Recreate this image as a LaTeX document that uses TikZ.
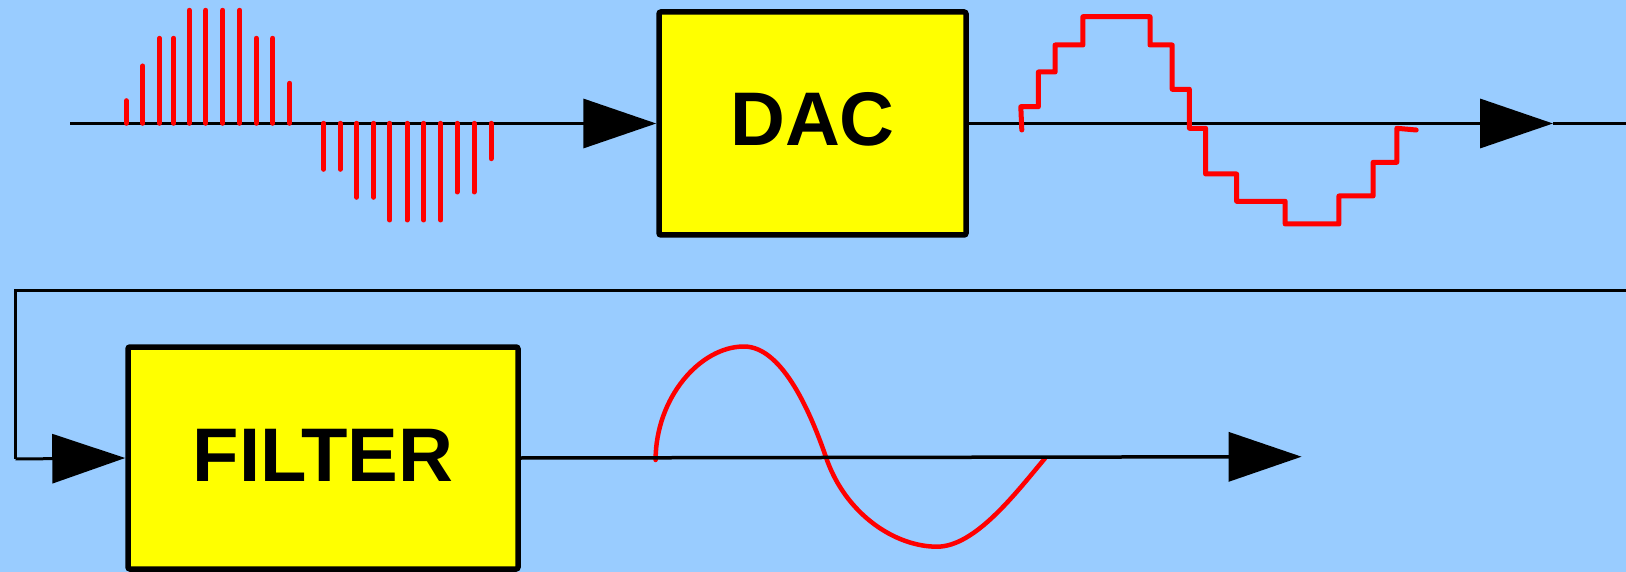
\documentclass[tikz,border=0pt]{standalone}
\usepackage{fontspec}
\setmainfont{Liberation Sans}
\usetikzlibrary{arrows.meta}
\definecolor{bgblue}{HTML}{99CCFF}
\definecolor{boxyellow}{HTML}{FFFF00}
\definecolor{sigred}{HTML}{FF0000}
\begin{document}
\begin{tikzpicture}[x=1pt,y=-1pt,
  block/.style={draw=black, line width=5.5pt, fill=boxyellow, rounded corners=2pt,
    font=\fontsize{76}{80}\selectfont\bfseries, inner sep=0pt},
  sigline/.style={draw=black, line width=3.5pt},
  fbline/.style={draw=black, line width=3pt},
  bigarrow/.style={-{Triangle[length=73pt,width=49pt]}},
  redsig/.style={draw=sigred, line width=5pt, line cap=round, line join=round}]
\useasboundingbox (0,0) rectangle (1626,572);
\fill[bgblue] (0,0) rectangle (1626,572);

% blocks
\node[block, minimum width=307pt, minimum height=223pt, text height=55pt, text depth=10pt] (dac) at (812.5,123.5) {DAC};
\node[block, minimum width=390pt, minimum height=222pt, text height=54pt, text depth=7pt] (filter) at (323,458) {FILTER};

% coordinates
\coordinate (in) at (70,123.5);
\coordinate (a2) at (1553,123.5);
\coordinate (outR) at (1626,123.5);
\coordinate (fbR) at (1626,291);
\coordinate (fbL) at (15.6,291);
\coordinate (fbB) at (15.6,459);
\coordinate (a3) at (1301.6,456.7);

% connectors
\draw[sigline, bigarrow] (in) -- (dac.west);
\draw[sigline, bigarrow] (dac.east) -- (a2);
\draw[sigline] (a2) -- (outR);
\draw[fbline] (fbR) -- (fbL) -- (fbB);
\draw[fbline, bigarrow] (fbB) -- (filter.west);

% sampled signal
\foreach \x/\t in {126.3/100.7, 142.9/66, 159.4/38.3, 173.7/38.3, 189.3/10.3, 205.8/10.3,
  222.8/10.3, 239.7/10.3, 256.3/38.3, 272.8/38.3, 289.7/83.3, 323.7/169.3, 340.2/169.3,
  356.7/197.3, 373.7/197.3, 389.7/220, 407.1/220, 423.7/220, 440.6/220, 457.1/192,
  474.1/192, 491.1/158.7}
  \draw[redsig] (\x,123.3) -- (\x,\t);

% staircase
\draw[redsig] (1021.8,130) -- (1020.8,106.7) -- (1038.4,106.7) -- (1038.4,72) -- (1055.1,72)
  -- (1055.1,45) -- (1082.9,45) -- (1082.9,16.7) -- (1150,16.7) -- (1150,45) -- (1172.2,45)
  -- (1172.2,89.3) -- (1189.4,89.3) -- (1189.4,128.3) -- (1205.6,128.3) -- (1205.6,174)
  -- (1236.6,174) -- (1236.6,201.3) -- (1285.2,201.3) -- (1285.2,224) -- (1338.9,224)
  -- (1338.9,196) -- (1373.1,196) -- (1373.1,162.3) -- (1396.8,162.3) -- (1396.8,128.3)
  -- (1416.2,130);

% smooth output
\draw[redsig, line width=4.5pt] (655.6,460) .. controls (655.6,398) and (700,346.5) .. (744,346.5)
  .. controls (780,346.5) and (808,405) .. (825.8,456.7)
  .. controls (845,514) and (895,546.7) .. (937,546.7)
  .. controls (975,546.7) and (1015,494) .. (1045,458.3);

\draw[sigline, bigarrow] (filter.east) -- (a3);
\end{tikzpicture}
\end{document}
